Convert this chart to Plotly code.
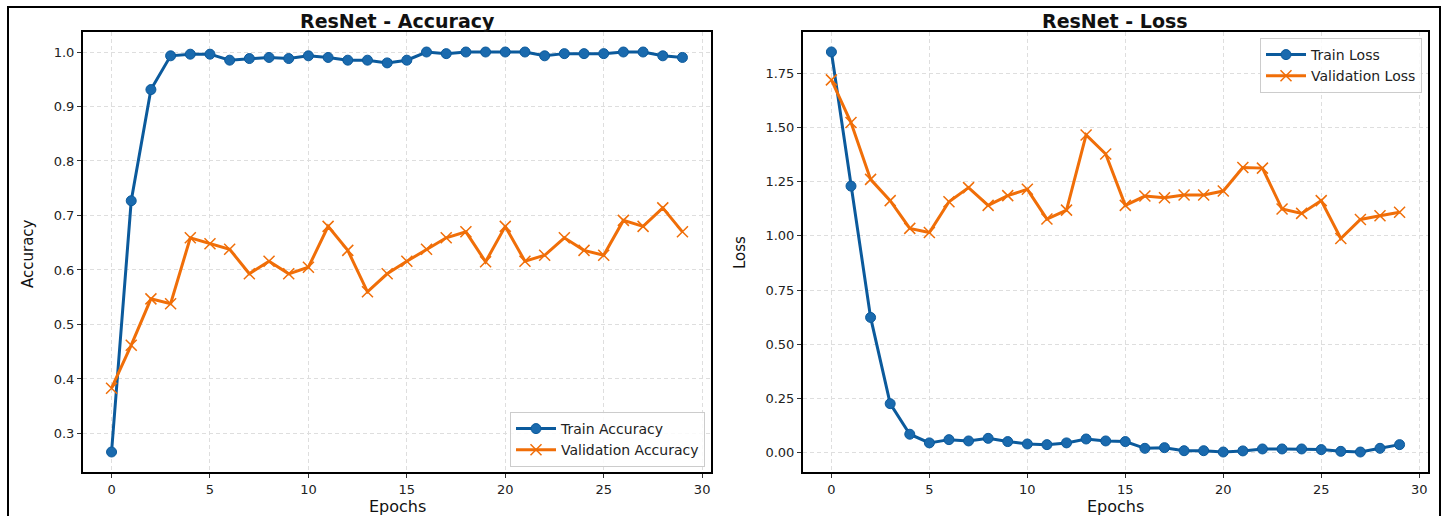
import plotly.graph_objects as go

# Training history of the ResNet model (30 epochs)
epochs = list(range(30))

train_acc = [0.266, 0.727, 0.931, 0.993, 0.996, 0.996, 0.985, 0.988, 0.990, 0.988,
             0.993, 0.990, 0.985, 0.985, 0.980, 0.985, 1.000, 0.997, 1.000, 1.000,
             1.000, 1.000, 0.993, 0.997, 0.997, 0.997, 1.000, 1.000, 0.993, 0.990]
val_acc = [0.383, 0.462, 0.547, 0.538, 0.659, 0.648, 0.638, 0.593, 0.616, 0.593,
           0.605, 0.680, 0.636, 0.560, 0.593, 0.616, 0.638, 0.659, 0.670, 0.615,
           0.680, 0.616, 0.627, 0.659, 0.636, 0.627, 0.691, 0.680, 0.714, 0.670]

train_loss = [1.849, 1.230, 0.624, 0.226, 0.085, 0.045, 0.060, 0.054, 0.066, 0.051,
              0.040, 0.037, 0.045, 0.063, 0.054, 0.051, 0.020, 0.023, 0.009, 0.009,
              0.003, 0.008, 0.017, 0.017, 0.017, 0.014, 0.006, 0.003, 0.020, 0.037]
val_loss = [1.720, 1.523, 1.261, 1.163, 1.035, 1.016, 1.158, 1.223, 1.141, 1.186,
            1.215, 1.078, 1.119, 1.466, 1.378, 1.141, 1.184, 1.176, 1.189, 1.189,
            1.207, 1.316, 1.313, 1.124, 1.104, 1.163, 0.988, 1.076, 1.093, 1.109]

acc_ticks = [0.3, 0.4, 0.5, 0.6, 0.7, 0.8, 0.9, 1.0]
loss_ticks = [0.0, 0.25, 0.5, 0.75, 1.0, 1.25, 1.5, 1.75]
epoch_ticks = [0, 5, 10, 15, 20, 25, 30]

BLUE_LINE = "#0b5a9c"
BLUE_MARK = "#1a6aae"
ORANGE = "#f06e08"
FONT = "DejaVu Sans"

W, H = 1445, 516


def px_x(p):
    return p / W


def px_y(p):
    return 1 - p / H


fig = go.Figure()

# Accuracy panel
fig.add_trace(go.Scatter(
    x=epochs, y=train_acc, mode="lines+markers", name="Train Accuracy",
    line=dict(color=BLUE_LINE, width=3),
    marker=dict(symbol="circle", size=10, color=BLUE_MARK, line=dict(color=BLUE_LINE, width=1)),
    xaxis="x", yaxis="y", legend="legend",
))
fig.add_trace(go.Scatter(
    x=epochs, y=val_acc, mode="lines+markers", name="Validation Accuracy",
    line=dict(color=ORANGE, width=3),
    marker=dict(symbol="x-thin", size=11, color=ORANGE, line=dict(color=ORANGE, width=1.5)),
    xaxis="x", yaxis="y", legend="legend",
))

# Loss panel
fig.add_trace(go.Scatter(
    x=epochs, y=train_loss, mode="lines+markers", name="Train Loss",
    line=dict(color=BLUE_LINE, width=3),
    marker=dict(symbol="circle", size=10, color=BLUE_MARK, line=dict(color=BLUE_LINE, width=1)),
    xaxis="x2", yaxis="y2", legend="legend2",
))
fig.add_trace(go.Scatter(
    x=epochs, y=val_loss, mode="lines+markers", name="Validation Loss",
    line=dict(color=ORANGE, width=3),
    marker=dict(symbol="x-thin", size=11, color=ORANGE, line=dict(color=ORANGE, width=1.5)),
    xaxis="x2", yaxis="y2", legend="legend2",
))

axis_common = dict(
    showline=True, linecolor="black", linewidth=2, mirror=True,
    ticks="outside", ticklen=4, tickwidth=1, tickcolor="#333",
    showgrid=True, gridcolor="#dedede", griddash="4px,3px", gridwidth=1,
    zeroline=False,
    tickfont=dict(family=FONT, size=13, color="#222"),
)

ydom = [px_y(472), px_y(32)]

legend_common = dict(
    bgcolor="rgba(255,255,255,0.85)", bordercolor="#cccccc", borderwidth=1,
    font=dict(family=FONT, size=14, color="#222"),
    tracegroupgap=0, itemwidth=40,
)

fig.update_layout(
    width=W, height=H,
    margin=dict(l=0, r=0, t=0, b=0),
    paper_bgcolor="white", plot_bgcolor="white",
    font=dict(family=FONT, color="#111"),
    xaxis=dict(domain=[px_x(83), px_x(711)], range=[-1.45, 30.45], tickvals=epoch_ticks,
               anchor="y", **axis_common),
    yaxis=dict(domain=ydom, range=[0.2293, 1.0367], tickvals=acc_ticks,
               tickformat=".1f", anchor="x", **axis_common),
    xaxis2=dict(domain=[px_x(803), px_x(1428)], range=[-1.45, 30.45], tickvals=epoch_ticks,
                anchor="y2", **axis_common),
    yaxis2=dict(domain=ydom, range=[-0.0893, 1.941], tickvals=loss_ticks,
                tickformat=".2f", anchor="x2", **axis_common),
    legend=dict(x=px_x(705), y=px_y(467), xanchor="right", yanchor="bottom", **legend_common),
    legend2=dict(x=px_x(1422), y=px_y(38), xanchor="right", yanchor="top", **legend_common),
    showlegend=True,
)

# Panel titles and axis labels
texts = [
    dict(text="<b>ResNet - Accuracy</b>", x=px_x(397), y=px_y(21), size=19),
    dict(text="<b>ResNet - Loss</b>", x=px_x(1115), y=px_y(21), size=19),
    dict(text="Epochs", x=px_x(397), y=px_y(506), size=16),
    dict(text="Epochs", x=px_x(1115), y=px_y(506), size=16),
]
for t in texts:
    fig.add_annotation(text=t["text"], x=t["x"], y=t["y"], xref="paper", yref="paper",
                       showarrow=False, xanchor="center", yanchor="middle",
                       font=dict(family=FONT, size=t["size"], color="#111"))

for label, xpos in [("Accuracy", 28), ("Loss", 740)]:
    fig.add_annotation(text=label, x=px_x(xpos), y=px_y(253), xref="paper", yref="paper",
                       showarrow=False, textangle=-90, xanchor="center", yanchor="middle",
                       font=dict(family=FONT, size=15, color="#111"))

# Frame around the whole figure
fig.add_shape(type="rect", xref="paper", yref="paper",
              x0=px_x(8), x1=px_x(1440), y0=-0.05, y1=px_y(7),
              line=dict(color="black", width=2), fillcolor="rgba(0,0,0,0)", layer="above")

fig.write_html("out.html")
